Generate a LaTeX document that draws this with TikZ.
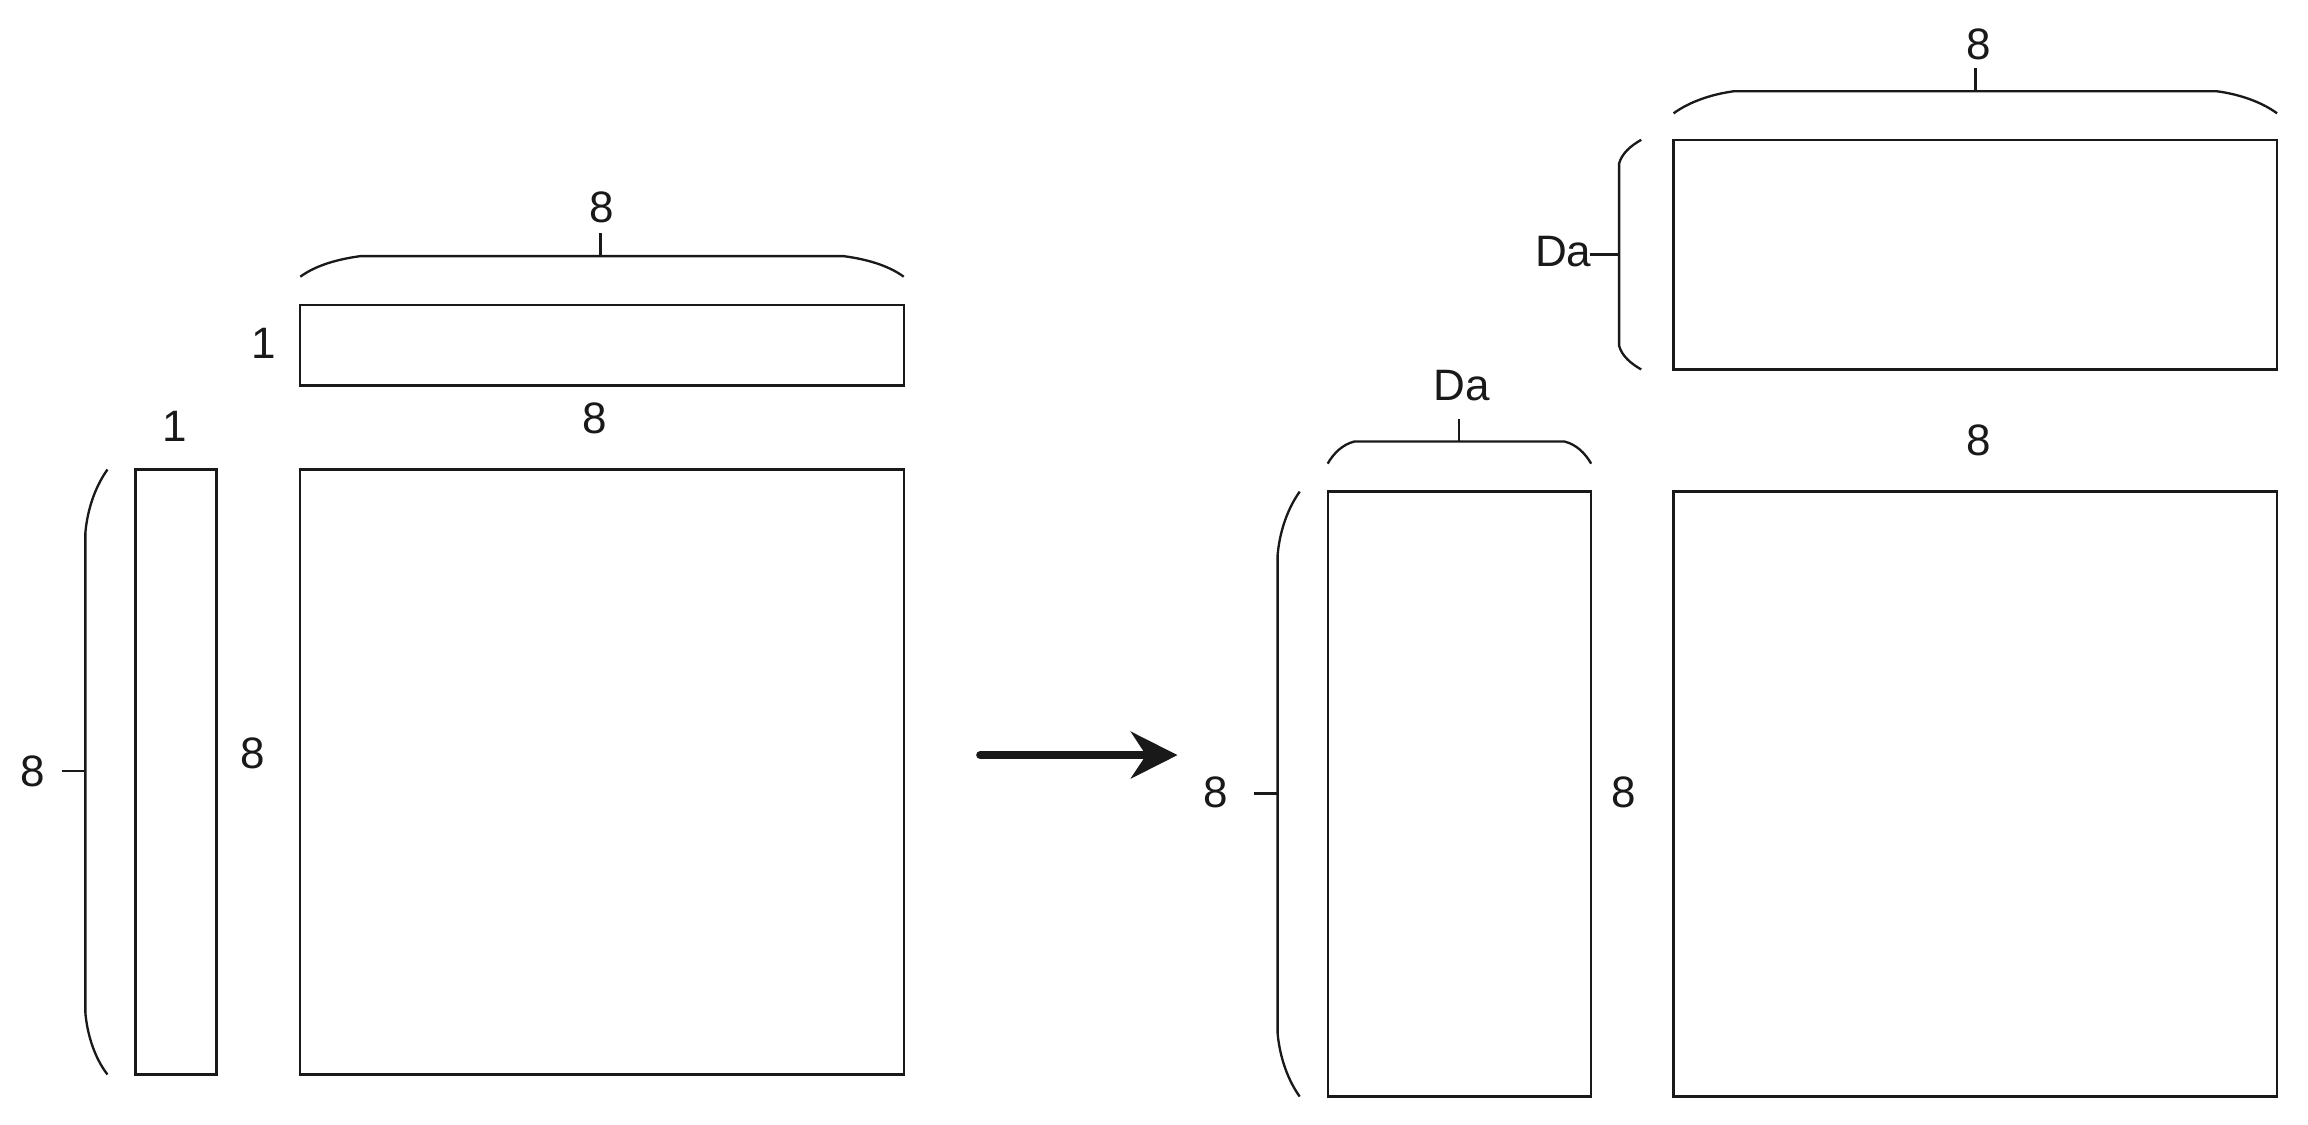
\documentclass[tikz,border=0pt]{standalone}
\usepackage{fontspec}
\setmainfont{Liberation Sans}
\usetikzlibrary{arrows.meta}
\begin{document}
\begin{tikzpicture}[x=0.01cm,y=-0.01cm,
  box/.style={draw=black!90,line width=0.45pt},
  brace/.style={draw=black!90,line width=0.45pt},
  lbl/.style={font=\fontsize{8.5}{10}\selectfont,text=black!90,inner sep=0pt}]
\useasboundingbox (0,0) rectangle (1568,764);
% left side
\draw[box] (92,319) rectangle (147,730);
\draw[box] (204,319) rectangle (614,730);
\draw[box] (204,207) rectangle (614,262);
\node[lbl] (l1) at (179,233) {1};
\node[lbl] (l2) at (404,284) {8};
\node[lbl] (l3) at (119,290) {1};
\node[lbl] (l4) at (172,512) {8};
\node[lbl] (l5) at (22,524) {8};
\node[lbl] (l6) at (409,141) {8};
\draw[brace] (73,319) .. controls (63,333) and (59,350) .. (58,362) -- (58,688) .. controls (59,700) and (63,717) .. (73,730);
\draw[brace] (42,524) -- (58,524);
\draw[brace] (204,188) .. controls (215,180) and (230,176) .. (245,174) -- (573,174) .. controls (588,176) and (603,180) .. (614,188);
\draw[brace] (408,174) -- (408,158);
% arrow
\coordinate (a1) at (666,513);
\coordinate (a2) at (800,513);
\draw[line width=1.6pt,line cap=round,draw=black!90,-{Stealth[length=9pt,width=9pt]}] (a1) -- (a2);
% right side
\draw[box] (902,334) rectangle (1081,745);
\draw[box] (1137,334) rectangle (1547,745);
\draw[box] (1137,95) rectangle (1547,251);
\node[lbl] (r1) at (1344,299) {8};
\node[lbl] (r2) at (1103,538) {8};
\node[lbl] (r3) at (826,538) {8};
\node[lbl] (r4) at (993,262) {Da};
\node[lbl] (r5) at (1062,171) {Da};
\node[lbl] (r6) at (1344,30) {8};
\draw[brace] (883,334) .. controls (873,348) and (869,365) .. (868,377) -- (868,702) .. controls (869,714) and (873,731) .. (883,745);
\draw[brace] (852,539) -- (868,539);
\draw[brace] (902,315) .. controls (906,308) and (912,302) .. (920,300) -- (1063,300) .. controls (1071,302) and (1077,308) .. (1081,315);
\draw[brace] (991,300) -- (991,285);
\draw[brace] (1115,95) .. controls (1108,99) and (1102,104) .. (1100,111) -- (1100,235) .. controls (1102,242) and (1108,247) .. (1115,251);
\draw[brace] (1080,173) -- (1100,173);
\draw[brace] (1137,77) .. controls (1148,69) and (1163,64) .. (1178,62) -- (1506,62) .. controls (1521,64) and (1536,69) .. (1547,77);
\draw[brace] (1342,62) -- (1342,46);
\end{tikzpicture}
\end{document}
